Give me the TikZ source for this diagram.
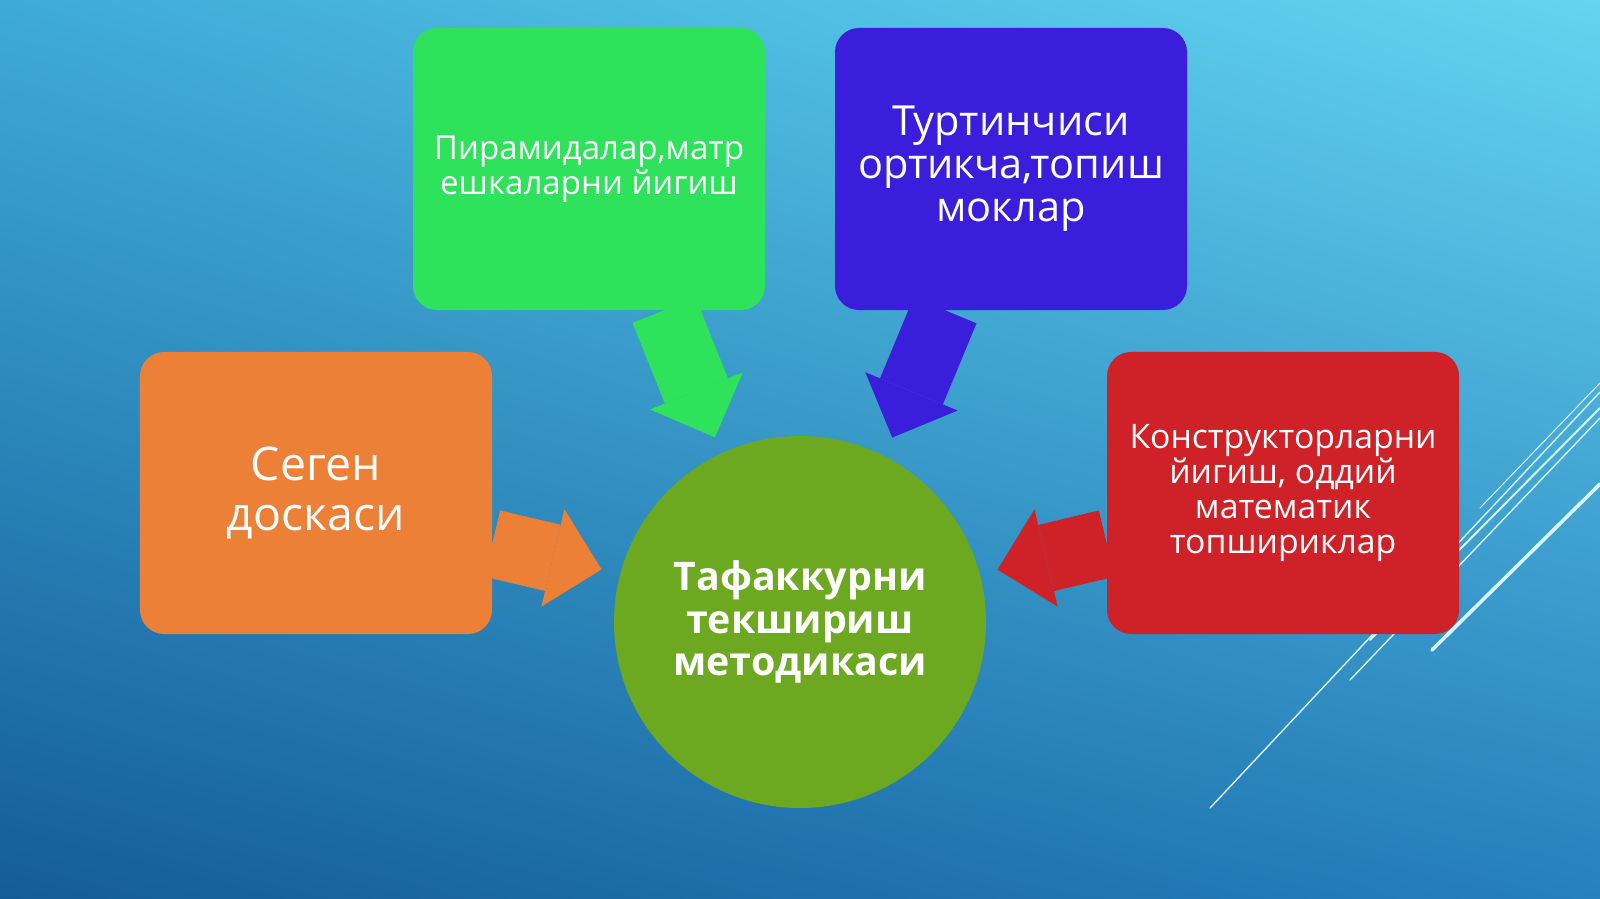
\documentclass[tikz,border=0pt]{standalone}
\usepackage{fontspec}
\setmainfont{Open Sans}
\usetikzlibrary{arrows.meta, positioning, calc, shadings}

\definecolor{bgTL}{RGB}{62,170,215}
\definecolor{bgTR}{RGB}{100,212,240}
\definecolor{bgBL}{RGB}{20,92,152}
\definecolor{bgBR}{RGB}{38,128,188}
\definecolor{lineC}{RGB}{215,245,255}
\definecolor{cGreen}{RGB}{46,226,92}
\definecolor{cBlue}{RGB}{58,30,220}
\definecolor{cOrange}{RGB}{236,128,54}
\definecolor{cRed}{RGB}{206,34,40}
\definecolor{cCircle}{RGB}{108,168,32}

\begin{document}
\begin{tikzpicture}[
    x=0.25mm, y=-0.25mm,
    card/.style={rectangle, rounded corners=6mm, minimum width=88mm, minimum height=70.5mm, text=white, align=center},
    fat/.style={line width=17mm, -{Triangle[length=12.5mm, width=25mm, line width=0pt]}},
    deco/.style={draw=lineC, line cap=round}
]
\useasboundingbox (0,0) rectangle (1600,899);
\shade[upper left=bgTL, upper right=bgTR, lower left=bgBL, lower right=bgBR] (0,0) rectangle (1600,899);

% Slice lines
\draw[deco, line width=0.35mm] (1210,808) -- (1600,392);
\draw[deco, line width=0.9mm] (1432,650) -- (1600,484);
\draw[deco, line width=0.35mm] (1350,680) -- (1600,418);
\draw[deco, line width=0.5mm] (1370,640) -- (1600,408);
\draw[deco, line width=0.25mm] (1480,508) -- (1600,383);

% Methods
\node (Piramida) at (589,169) [card, fill=cGreen, font=\fontsize{23.5}{25}\selectfont] {Пирамидалар,матр\\ешкаларни йигиш};
\node (Turtinchi) at (1011,169) [card, fill=cBlue, font=\fontsize{29.5}{30.5}\selectfont] {Туртинчиси\\ортикча,топиш\\моклар};
\node (Segen) at (316,493) [card, fill=cOrange, font=\fontsize{33}{35.5}\selectfont] {Сеген\\доскаси};
\node (Konstr) at (1283,493) [card, fill=cRed, font=\fontsize{24}{25}\selectfont] {Конструкторларни\\йигиш, оддий\\математик\\топшириклар};

% Centre
\node (Tafakkur) at (800,622) [circle, fill=cCircle, minimum size=93mm, text=white, align=center, font=\bfseries\fontsize{28}{30}\selectfont] {Тафаккурни\\текшириш\\методикаси};

% Arrows
\draw[fat, cGreen, shorten >=4.25mm] (Piramida.-62) -- (Tafakkur.115);
\draw[fat, cBlue, shorten >=5mm] (Turtinchi.-115) -- (Tafakkur.63);
\draw[fat, cOrange, shorten >=4.75mm] (Segen.-16) -- (Tafakkur.165);
\draw[fat, cRed, shorten >=4.5mm] (Konstr.196) -- (Tafakkur.15);
\end{tikzpicture}
\end{document}
